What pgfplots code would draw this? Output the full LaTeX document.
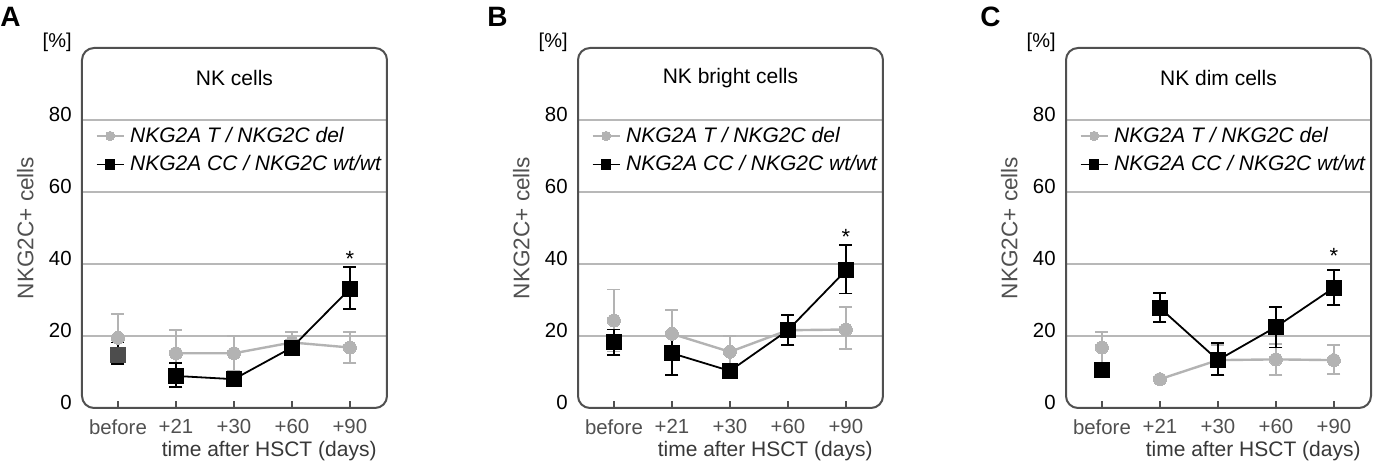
\documentclass[border=0pt]{standalone}
\usepackage{fontspec}
\setmainfont{Liberation Sans}
\usepackage{pgfplots}
\pgfplotsset{compat=1.18}
\definecolor{lg}{HTML}{B3B3B3}
\definecolor{gridc}{HTML}{B8B8B8}
\definecolor{dg}{HTML}{505050}
\definecolor{sq}{HTML}{4D4D4D}

\pgfplotsset{
  panel/.style={
    at={(#1)}, anchor=south west, scale only axis,
    width=152.5pt, height=180pt,
    xmin=-0.62, xmax=4.64, ymin=0, ymax=100,
    xtick={0,1,2,3,4}, xticklabels={before,+21,+30,+60,+90},
    ytick={20,40,60,80},
    extra y ticks={0}, extra y tick style={grid=none},
    ymajorgrids, grid style={color=gridc, line width=0.6pt},
    axis line style={draw=none},
    clip=false,
    xtick pos=left, ytick pos=left,
    ytick style={draw=none},
    xtick style={dg, line width=0.9pt},
    major tick length=3.5pt,
    tick align=inside,
    /pgf/number format/assume math mode=true,
    tick label style={font=\fontsize{10.2}{12}\selectfont},
    xticklabel style={text=dg, inner sep=0pt, yshift=-5.5pt},
    yticklabel style={inner sep=0pt, xshift=-5pt, yshift=3pt},
    ylabel={NKG2C+ cells},
    ylabel style={at={(rel axis cs:0,0.5)}, anchor=center, yshift=28.3pt, text=dg, font=\fontsize{11.3}{13}\selectfont},
    legend style={at={(rel axis cs:0.043,0.716)}, anchor=west, draw=none, fill=none,
      inner xsep=0pt, inner ysep=0pt, row sep=0pt,
      nodes={inner sep=2.6pt},
      font=\itshape\fontsize{10.5}{12}\selectfont},
    legend cell align=left,
    legend image code/.code={\draw[mark repeat=2,mark phase=2,##1,mark size=2.3pt] plot coordinates {(0pt,0pt)(6.75pt,0pt)(13.5pt,0pt)};},
    error bars/y dir=both, error bars/y explicit,
    error bars/error mark=-,
  },
  gser/.style={color=lg, line width=1.2pt, mark=*, mark size=3.25pt,
    mark options={fill=lg, draw=lg, line width=0pt},
    error bars/error bar style={color=lg, line width=0.9pt},
    error bars/error mark options={rotate=90, color=lg, mark size=3.25pt, line width=0.9pt}},
  bser/.style={color=black, line width=0.9pt, mark=square*, mark size=3.75pt,
    mark options={fill=black, draw=black, line width=0pt},
    error bars/error bar style={color=black, line width=0.9pt},
    error bars/error mark options={rotate=90, color=black, mark size=3.25pt, line width=0.9pt}},
}

\newcommand{\panelframe}[1]{%
  \draw[dg, line width=1pt, rounded corners=6pt] (rel axis cs:0,0) rectangle (rel axis cs:1,1);
  \node[font=\fontsize{10.5}{12}\selectfont] at (rel axis cs:0.5,1) [yshift=-14.8pt] {#1};
  \node[anchor=east, inner sep=0pt, font=\fontsize{10}{12}\selectfont] at (rel axis cs:0,1) [xshift=-5pt, yshift=3pt] {[\%]};
  \node[anchor=north east, inner sep=0pt, text=dg!70!black, font=\fontsize{10.5}{12}\selectfont] at (rel axis cs:0.967,0) [yshift=-16.5pt] {time after HSCT (days)};
}

\begin{document}
\begin{tikzpicture}
\useasboundingbox (0,0) rectangle (686.5pt,232pt);

\node[anchor=north west, inner sep=0pt, font=\bfseries\fontsize{14}{15}\selectfont] at (0pt,228.5pt) {A};
\node[anchor=north west, inner sep=0pt, font=\bfseries\fontsize{14}{15}\selectfont] at (243.5pt,228.5pt) {B};
\node[anchor=north west, inner sep=0pt, font=\bfseries\fontsize{14}{15}\selectfont] at (490pt,228.5pt) {C};

% ---------------- Panel A ----------------
\begin{axis}[panel={41pt,28pt}]
\panelframe{NK cells}
\addplot[gser, forget plot] coordinates {(0,19.5) +- (0,6.7)};
\addplot[gser] coordinates {(1,15.2) +- (0,6.4) (2,15.2) +- (0,4.8) (3,18.2) +- (0,2.9) (4,16.8) += (0,4.3) -= (0,4.4)};
\addlegendentry{NKG2A T / NKG2C del}
\addplot[bser, mark options={fill=sq, draw=sq}, forget plot] coordinates {(0,14.7) += (0,3.5) -= (0,2.5)};
\addplot[bser] coordinates {(1,8.9) += (0,3.5) -= (0,3.0) (2,8.0) +- (0,0) (3,16.8) +- (0,0) (4,33.1) += (0,6.1) -= (0,5.5)};
\addlegendentry{NKG2A CC / NKG2C wt/wt}
\node[anchor=base, inner sep=0pt, font=\fontsize{11}{12}\selectfont] at (axis cs:4,39.3) {*};
\end{axis}

% ---------------- Panel B ----------------
\begin{axis}[panel={289pt,28pt}]
\panelframe{NK bright cells}
\addplot[gser, forget plot] coordinates {(0,24.3) +- (0,8.6)};
\addplot[gser] coordinates {(1,20.6) +- (0,6.6) (2,15.6) +- (0,4.4) (3,21.6) +- (0,2) (4,21.8) += (0,6.2) -= (0,5.5)};
\addlegendentry{NKG2A T / NKG2C del}
\addplot[bser, forget plot] coordinates {(0,18.2) += (0,3.6) -= (0,3.5)};
\addplot[bser] coordinates {(1,15.2) +- (0,6) (2,10.3) +- (0,0) (3,21.6) +- (0,4.2) (4,38.2) += (0,7) -= (0,6.4)};
\addlegendentry{NKG2A CC / NKG2C wt/wt}
\node[anchor=base, inner sep=0pt, font=\fontsize{11}{12}\selectfont] at (axis cs:4,45.4) {*};
\end{axis}

% ---------------- Panel C ----------------
\begin{axis}[panel={533pt,28pt}]
\panelframe{NK dim cells}
\addplot[gser, forget plot] coordinates {(0,16.8) +- (0,4.4)};
\addplot[gser] coordinates {(1,8.0) +- (0,0) (2,13.3) +- (0,4.2) (3,13.5) += (0,4.2) -= (0,4.4) (4,13.3) += (0,4.2) -= (0,3.9)};
\addlegendentry{NKG2A T / NKG2C del}
\addplot[bser, forget plot] coordinates {(0,10.6) +- (0,0)};
\addplot[bser] coordinates {(1,27.8) += (0,4.2) -= (0,3.9) (2,13.3) += (0,4.7) -= (0,4.2) (3,22.5) += (0,5.5) -= (0,5.7) (4,33.4) += (0,5) -= (0,4.9)};
\addlegendentry{NKG2A CC / NKG2C wt/wt}
\node[anchor=base, inner sep=0pt, font=\fontsize{11}{12}\selectfont] at (axis cs:4,40.2) {*};
\end{axis}
\end{tikzpicture}
\end{document}
